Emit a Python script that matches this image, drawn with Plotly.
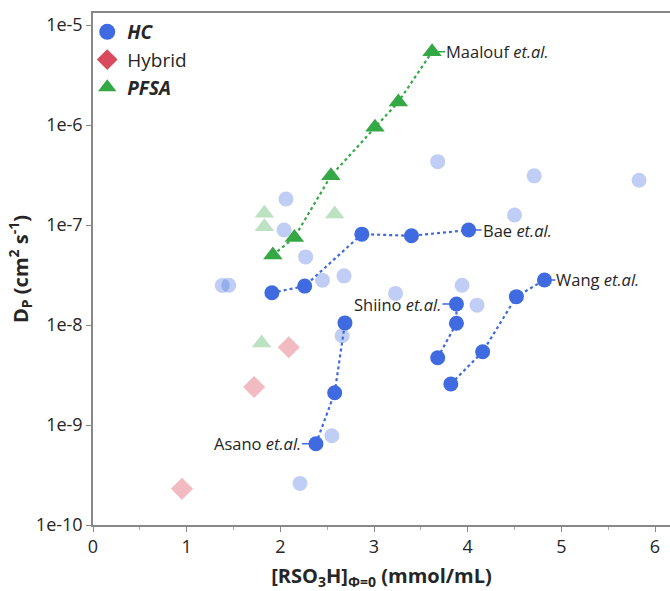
import math
import plotly.graph_objects as go

# ---------------- data ----------------
# Highlighted HC series (dark blue, dotted lines)
asano_x = [2.38, 2.58, 2.69]
asano_y = [6.5e-10, 2.1e-9, 1.05e-8]
bae_x = [1.91, 2.26, 2.87, 3.40, 4.01]
bae_y = [2.1e-8, 2.45e-8, 8.1e-8, 7.8e-8, 8.9e-8]
shiino_x = [3.68, 3.88, 3.88]
shiino_y = [4.7e-9, 1.04e-8, 1.62e-8]
wang_x = [3.82, 4.16, 4.52, 4.82]
wang_y = [2.57e-9, 5.4e-9, 1.92e-8, 2.82e-8]
# Highlighted PFSA series (green, dotted line)
maalouf_x = [1.92, 2.15, 2.54, 3.01, 3.26, 3.62]
maalouf_y = [5.0e-8, 7.5e-8, 3.1e-7, 9.5e-7, 1.7e-6, 5.4e-6]
# Other literature points (faded)
hc_other_x = [2.06, 2.04, 2.27, 1.38, 1.45, 2.45, 2.68, 3.23, 3.68, 4.71, 5.83,
              4.50, 3.94, 4.10, 2.66, 2.55, 2.21]
hc_other_y = [1.82e-7, 8.9e-8, 4.8e-8, 2.48e-8, 2.5e-8, 2.8e-8, 3.1e-8, 2.07e-8,
              4.3e-7, 3.1e-7, 2.8e-7, 1.26e-7, 2.5e-8, 1.58e-8, 7.8e-9, 7.8e-10, 2.6e-10]
hybrid_x = [2.09, 1.72, 0.95]
hybrid_y = [6.0e-9, 2.4e-9, 2.3e-10]
pfsa_other_x = [1.83, 1.83, 2.58, 1.80]
pfsa_other_y = [1.31e-7, 9.6e-8, 1.29e-7, 6.6e-9]

x_ticks = [0, 1, 2, 3, 4, 5, 6]
y_tickvals = [1e-10, 1e-9, 1e-8, 1e-7, 1e-6, 1e-5]
y_ticktext = ["1e-10", "1e-9", "1e-8", "1e-7", "1e-6", "1e-5"]

# ---------------- styles ----------------
BLUE = "#3F6AE0"
GREEN = "#35A846"
PINK = "#D94B5C"
BLUE_L = "rgba(63,106,224,0.33)"
GREEN_L = "rgba(53,168,70,0.33)"
PINK_L = "rgba(217,75,92,0.38)"
FONT = "Open Sans"
TXT = "#262626"

fig = go.Figure()

# faded points
fig.add_trace(go.Scatter(x=hc_other_x, y=hc_other_y, mode="markers", showlegend=False,
                         marker=dict(symbol="circle", size=15, color=BLUE_L)))
fig.add_trace(go.Scatter(x=pfsa_other_x, y=pfsa_other_y, mode="markers", showlegend=False,
                         marker=dict(symbol="triangle-up", size=17, color=GREEN_L)))
fig.add_trace(go.Scatter(x=hybrid_x, y=hybrid_y, mode="markers", showlegend=False,
                         marker=dict(symbol="diamond", size=17, color=PINK_L)))

# highlighted series
for xs, ys in [(asano_x, asano_y), (bae_x, bae_y), (shiino_x, shiino_y), (wang_x, wang_y)]:
    fig.add_trace(go.Scatter(x=xs, y=ys, mode="lines+markers", showlegend=False,
                             line=dict(color=BLUE, width=2.2, dash="dot"),
                             marker=dict(symbol="circle", size=15, color=BLUE)))
fig.add_trace(go.Scatter(x=maalouf_x, y=maalouf_y, mode="lines+markers", showlegend=False,
                         line=dict(color=GREEN, width=2.2, dash="dot"),
                         marker=dict(symbol="triangle-up", size=17, color=GREEN)))

# legend entries
fig.add_trace(go.Scatter(x=[None], y=[None], mode="markers", name="<b><i>HC</i></b>",
                         marker=dict(symbol="circle", size=17, color=BLUE)))
fig.add_trace(go.Scatter(x=[None], y=[None], mode="markers", name="Hybrid",
                         marker=dict(symbol="diamond", size=17, color=PINK)))
fig.add_trace(go.Scatter(x=[None], y=[None], mode="markers", name="<b><i>PFSA</i></b>",
                         marker=dict(symbol="triangle-up", size=17, color=GREEN)))

# labels (annotation y on a log axis is given in log10 units)
labels = [
    ("Maalouf", maalouf_x[-1], maalouf_y[-1], 13, "left", GREEN),
    ("Bae", bae_x[-1], bae_y[-1], 13, "left", BLUE),
    ("Wang", wang_x[-1], wang_y[-1], 11, "left", BLUE),
    ("Shiino", shiino_x[-1], shiino_y[-1], -14, "right", BLUE),
    ("Asano", asano_x[0], asano_y[0], -14, "right", BLUE),
]
for name, lx, ly, ax, anchor, col in labels:
    fig.add_annotation(x=lx, y=math.log10(ly), xref="x", yref="y",
                       text=f"{name} <i>et.al.</i>",
                       showarrow=True, arrowhead=0, arrowwidth=1.5, arrowcolor=col,
                       ax=ax, ay=0, xanchor=anchor, yanchor="middle", borderpad=0,
                       font=dict(family=FONT, size=16.5, color=TXT))

fig.update_layout(
    width=670, height=591,
    margin=dict(l=93, r=0, t=13, b=66),
    plot_bgcolor="white", paper_bgcolor="white",
    font=dict(family=FONT, size=18, color=TXT),
    legend=dict(x=-0.01, y=1.0, xanchor="left", yanchor="top", bgcolor="rgba(0,0,0,0)",
                font=dict(family=FONT, size=19, color=TXT), tracegroupgap=0,
                itemsizing="trace"),
    xaxis=dict(range=[0, 6.16], tickvals=x_ticks, ticks="outside", ticklen=5,
               tickcolor="#888", showline=True, linecolor="#888", linewidth=1.5,
               mirror=True, showgrid=False, zeroline=False,
               minor=dict(dtick=0.5, tick0=0, ticks="outside", ticklen=3, tickcolor="#aaa"),
               tickfont=dict(size=18, color=TXT),
               title=dict(text="<b>[RSO<sub>3</sub>H]<sub>Φ=0</sub> (mmol/mL)</b>",
                          font=dict(size=20, color=TXT), standoff=12)),
    yaxis=dict(type="log", range=[-10, -4.88], tickvals=y_tickvals, ticktext=y_ticktext,
               ticks="outside", ticklen=5, tickcolor="#888", showline=True,
               linecolor="#888", linewidth=1.5, showgrid=False, zeroline=False,
               tickfont=dict(size=18, color=TXT),
               title=dict(text="<b>D<sub>P</sub> (cm<sup>2</sup> s<sup>-1</sup>)</b>",
                          font=dict(size=20, color=TXT), standoff=2)),
)

fig.write_html("out.html")
